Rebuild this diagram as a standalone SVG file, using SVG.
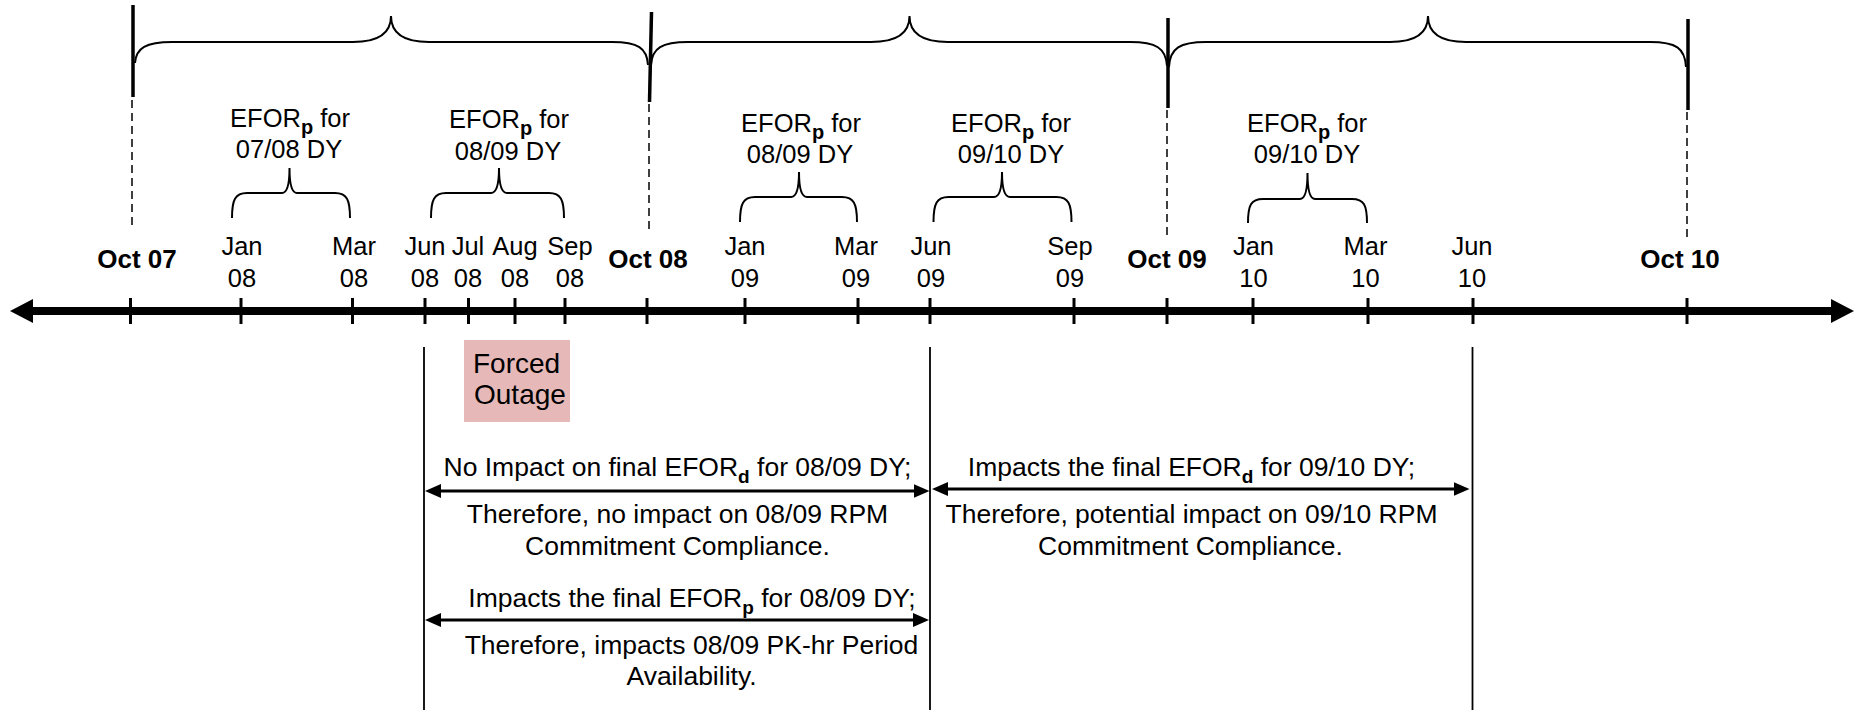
<svg xmlns="http://www.w3.org/2000/svg" width="1858" height="710" viewBox="0 0 1858 710">
<style>
text{font-family:"Liberation Sans",Arial,sans-serif;fill:#000}
.m{font-size:25.5px;text-anchor:middle}
.b{font-size:26px;font-weight:bold;text-anchor:middle}
.e{font-size:25.5px;text-anchor:middle}
.t{font-size:26.5px;text-anchor:middle}
.sub{font-weight:bold;font-size:20px}
.sub2{font-weight:bold;font-size:19px}
.tick{stroke:#000;stroke-width:3}
.brace{fill:none;stroke:#000;stroke-width:2}
.bigv{stroke:#000;stroke-width:3.5}
.dash{stroke:#000;stroke-width:1.5;stroke-dasharray:8 5}
.vl{stroke:#000;stroke-width:1.8}
.dbl{stroke:#000;stroke-width:3;marker-start:url(#ah);marker-end:url(#ah)}
</style>
<defs>
<marker id="ah" markerUnits="userSpaceOnUse" markerWidth="16" markerHeight="14" viewBox="0 0 16 14" refX="10" refY="7" orient="auto-start-reverse"><path d="M0,0 L16,7 L0,14 z" fill="#000"/></marker>
<marker id="big" markerUnits="userSpaceOnUse" markerWidth="23" markerHeight="24" viewBox="0 0 23 24" refX="13" refY="12" orient="auto-start-reverse"><path d="M0,0 L23,12 L0,24 z" fill="#000"/></marker>
</defs>

<g id="timeline">
<line x1="20" y1="311" x2="1844" y2="311" stroke="#000" stroke-width="8" marker-start="url(#big)" marker-end="url(#big)"/>
<g id="ticks">
<line class="tick" x1="130.5" y1="298" x2="130.5" y2="324"/>
<line class="tick" x1="241" y1="298" x2="241" y2="324"/>
<line class="tick" x1="352.5" y1="298" x2="352.5" y2="324"/>
<line class="tick" x1="425" y1="298" x2="425" y2="324"/>
<line class="tick" x1="468.5" y1="298" x2="468.5" y2="324"/>
<line class="tick" x1="515" y1="298" x2="515" y2="324"/>
<line class="tick" x1="565" y1="298" x2="565" y2="324"/>
<line class="tick" x1="647" y1="298" x2="647" y2="324"/>
<line class="tick" x1="745" y1="298" x2="745" y2="324"/>
<line class="tick" x1="858" y1="298" x2="858" y2="324"/>
<line class="tick" x1="930" y1="298" x2="930" y2="324"/>
<line class="tick" x1="1074" y1="298" x2="1074" y2="324"/>
<line class="tick" x1="1167" y1="298" x2="1167" y2="324"/>
<line class="tick" x1="1253" y1="298" x2="1253" y2="324"/>
<line class="tick" x1="1368" y1="298" x2="1368" y2="324"/>
<line class="tick" x1="1473" y1="298" x2="1473" y2="324"/>
<line class="tick" x1="1687" y1="298" x2="1687" y2="324"/>
</g>
</g>

<g id="month-labels">
<text class="b" x="137" y="268">Oct 07</text>
<text class="m" x="242" y="255">Jan</text><text class="m" x="242" y="287">08</text>
<text class="m" x="354" y="255">Mar</text><text class="m" x="354" y="287">08</text>
<text class="m" x="425" y="255">Jun</text><text class="m" x="425" y="287">08</text>
<text class="m" x="468" y="255">Jul</text><text class="m" x="468" y="287">08</text>
<text class="m" x="515" y="255">Aug</text><text class="m" x="515" y="287">08</text>
<text class="m" x="570" y="255">Sep</text><text class="m" x="570" y="287">08</text>
<text class="b" x="648" y="268">Oct 08</text>
<text class="m" x="745" y="255">Jan</text><text class="m" x="745" y="287">09</text>
<text class="m" x="856" y="255">Mar</text><text class="m" x="856" y="287">09</text>
<text class="m" x="931" y="255">Jun</text><text class="m" x="931" y="287">09</text>
<text class="m" x="1070" y="255">Sep</text><text class="m" x="1070" y="287">09</text>
<text class="b" x="1167" y="268">Oct 09</text>
<text class="m" x="1253.5" y="255">Jan</text><text class="m" x="1253.5" y="287">10</text>
<text class="m" x="1365.5" y="255">Mar</text><text class="m" x="1365.5" y="287">10</text>
<text class="m" x="1472" y="255">Jun</text><text class="m" x="1472" y="287">10</text>
<text class="b" x="1680" y="268">Oct 10</text>
</g>

<g id="year-markers">
<line class="bigv" x1="133" y1="5" x2="133" y2="97"/>
<line class="bigv" x1="651.5" y1="12" x2="649.5" y2="102"/>
<line class="bigv" x1="1168" y1="18" x2="1168" y2="108"/>
<line class="bigv" x1="1688" y1="19" x2="1688" y2="110"/>
<line class="dash" x1="132" y1="100" x2="132" y2="230"/>
<line class="dash" x1="649" y1="104" x2="649" y2="232"/>
<line class="dash" x1="1167" y1="110" x2="1167" y2="235"/>
<line class="dash" x1="1687" y1="112" x2="1687" y2="238"/>
</g>

<g id="delivery-year-braces">
<path class="brace" d="M135,63 C136,48 146,42 172,42 L353,42 C378,42 391,34 391,16 C391,34 404,42 429,42 L612,42 C638,42 647,48 648,65"/>
<path class="brace" d="M651,65 C652,48 662,42 688,42 L871,42 C896,42 909.5,34 909.5,16 C909.5,34 923,42 948,42 L1130,42 C1156,42 1166,48 1167,66"/>
<path class="brace" d="M1169,67 C1170,48 1180,42 1206,42 L1390,42 C1415,42 1428,34 1428,16 C1428,34 1441,42 1466,42 L1650,42 C1676,42 1685,48 1686,67"/>
</g>

<g id="efor-braces">
<path class="brace" d="M232,218 C232,200 235,193 247,193 L282,193 C287,193 289.5,186 289.5,168 C289.5,186 292,193 297,193 L335,193 C347,193 350,200 350,218"/>
<path class="brace" d="M431,218 C431,200 434,193 446,193 L491,193 C496,193 499,186 499,168 C499,186 502,193 507,193 L549,193 C561,193 564,200 564,218"/>
<path class="brace" d="M740,222 C740,204 743,197 755,197 L791,197 C796,197 799,190 799,172 C799,190 802,197 807,197 L842,197 C854,197 857,204 857,222"/>
<path class="brace" d="M933.5,222 C933.5,204 936.5,197 948.5,197 L994,197 C999,197 1002,190 1002,172 C1002,190 1005,197 1010,197 L1056.5,197 C1068.5,197 1071.5,204 1071.5,222"/>
<path class="brace" d="M1248,223 C1248,205 1251,199 1263,199 L1300,199 C1305,199 1307.5,191 1307.5,173 C1307.5,191 1310,199 1315,199 L1352,199 C1364,199 1367,205 1367,223"/>
</g>

<g id="efor-labels">
<g id="efor-0708"><text class="e" x="290" y="127">EFOR<tspan class="sub" dy="7">p</tspan><tspan dy="-7"> for</tspan></text><text class="e" x="289" y="158">07/08 DY</text></g>
<g id="efor-0809a"><text class="e" x="509" y="128">EFOR<tspan class="sub" dy="7">p</tspan><tspan dy="-7"> for</tspan></text><text class="e" x="508" y="160">08/09 DY</text></g>
<g id="efor-0809b"><text class="e" x="801" y="132">EFOR<tspan class="sub" dy="7">p</tspan><tspan dy="-7"> for</tspan></text><text class="e" x="800" y="163">08/09 DY</text></g>
<g id="efor-0910a"><text class="e" x="1011" y="132">EFOR<tspan class="sub" dy="7">p</tspan><tspan dy="-7"> for</tspan></text><text class="e" x="1011" y="163">09/10 DY</text></g>
<g id="efor-0910b"><text class="e" x="1307" y="132">EFOR<tspan class="sub" dy="7">p</tspan><tspan dy="-7"> for</tspan></text><text class="e" x="1307" y="163">09/10 DY</text></g>
</g>

<g id="forced-outage">
<rect x="464" y="340" width="106" height="82" fill="#E6B9B8"/>
<text x="473" y="373" font-size="28">Forced</text>
<text x="474" y="404" font-size="28">Outage</text>
</g>

<g id="connectors">
<line class="vl" x1="424" y1="347" x2="424" y2="710"/>
<line class="vl" x1="930" y1="347" x2="930" y2="710"/>
<line class="vl" x1="1472.5" y1="347" x2="1472.5" y2="710"/>
<line class="dbl" x1="431" y1="491" x2="923.5" y2="491"/>
<line class="dbl" x1="431" y1="620" x2="923" y2="620"/>
<line class="dbl" x1="938" y1="489" x2="1463.5" y2="489"/>
</g>

<g id="impact-0809-d">
<text class="t" x="677.5" y="476">No Impact on final EFOR<tspan class="sub2" dy="7">d</tspan><tspan dy="-7"> for 08/09 DY;</tspan></text>
<text class="t" x="677.5" y="523">Therefore, no impact on 08/09 RPM</text>
<text class="t" x="677.5" y="555">Commitment Compliance.</text>
</g>
<g id="impact-0809-p">
<text class="t" x="692" y="607">Impacts the final EFOR<tspan class="sub2" dy="7">p</tspan><tspan dy="-7"> for 08/09 DY;</tspan></text>
<text class="t" x="691.5" y="654">Therefore, impacts 08/09 PK-hr Period</text>
<text class="t" x="691.5" y="685">Availability.</text>
</g>
<g id="impact-0910-d">
<text class="t" x="1191.5" y="476">Impacts the final EFOR<tspan class="sub2" dy="7">d</tspan><tspan dy="-7"> for 09/10 DY;</tspan></text>
<text class="t" x="1191.5" y="523">Therefore, potential impact on 09/10 RPM</text>
<text class="t" x="1190.5" y="555">Commitment Compliance.</text>
</g>
</svg>
